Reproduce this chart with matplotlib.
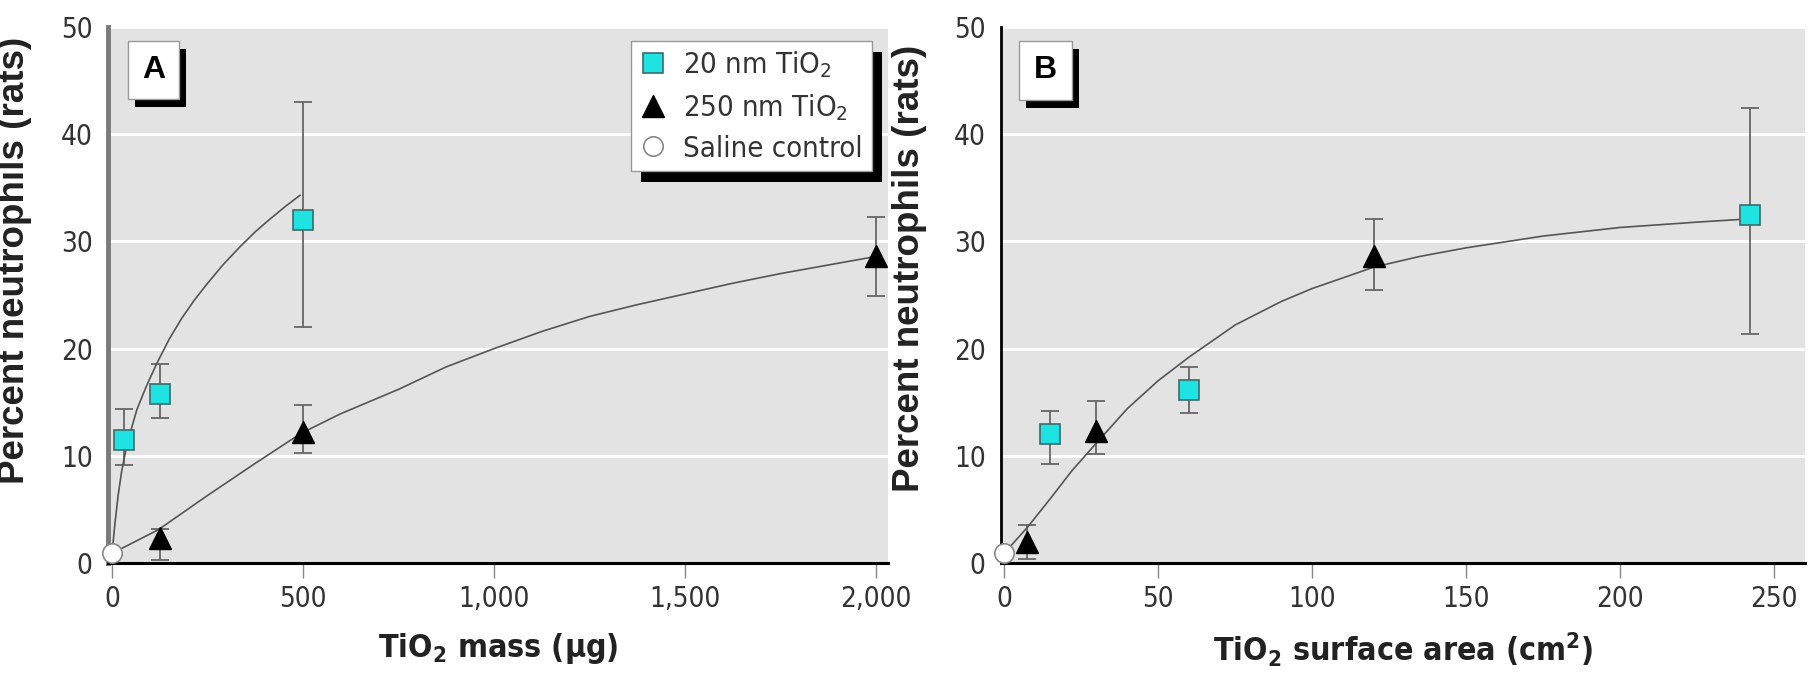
import numpy as np
import matplotlib
matplotlib.use('Agg')
import matplotlib.pyplot as plt
from matplotlib import font_manager as fm
from matplotlib.patches import Rectangle
from matplotlib.transforms import IdentityTransform

# pick a narrow face if the machine has one
fonts = [(f.name, f.stretch) for f in fm.fontManager.ttflist]
names = {n for n, s in fonts}
narrow, stretch = 'Liberation Sans', 'normal'
if 'Liberation Sans Narrow' in names:
    narrow = 'Liberation Sans Narrow'
else:
    for cand in ['Noto Sans', 'DejaVu Sans', 'Open Sans', 'Roboto']:
        st = [s for n, s in fonts if n == cand and 'condensed' in str(s)]
        if st:
            narrow = cand
            stretch = 'condensed' if 'condensed' in st else st[0]
            break

plt.rcParams['font.family'] = [narrow, 'DejaVu Sans']
plt.rcParams['font.stretch'] = stretch
plt.rcParams['mathtext.default'] = 'regular'

# panel A: dose as mass (ug)
mass_20 = [31, 125, 500]
pct_20_a = [11.5, 15.8, 32.0]
lo_20_a = [9.1, 13.5, 22.0]
hi_20_a = [14.4, 18.6, 43.0]

mass_250 = [125, 500, 2000]
pct_250_a = [2.3, 12.2, 28.6]
lo_250_a = [0.3, 10.3, 24.9]
hi_250_a = [3.2, 14.7, 32.3]

saline_a = 0.9

# fitted curves
fit20_a_x = [0, 8, 16, 25, 40, 65, 90, 117, 150, 182, 215, 248, 290, 335, 375, 414, 455, 492]
fit20_a_y = [0.9, 3.8, 6.3, 8.5, 11.2, 14.3, 16.5, 18.6, 20.9, 22.8, 24.5, 26.0, 27.8, 29.5, 30.9, 32.1, 33.3, 34.3]
fit250_a_x = [0, 121, 250, 375, 495, 597, 750, 875, 1000, 1125, 1250, 1375, 1500, 1625, 1750, 1875, 2000]
fit250_a_y = [0.9, 3.1, 6.3, 9.3, 12.1, 13.9, 16.2, 18.3, 20.0, 21.6, 23.0, 24.1, 25.1, 26.1, 27.0, 27.8, 28.6]

# panel B: dose as surface area (cm2)
area_20 = [15, 60, 242]
pct_20_b = [12.0, 16.1, 32.5]
lo_20_b = [9.2, 14.0, 21.4]
hi_20_b = [14.2, 18.3, 42.4]

area_250 = [7.5, 30, 120]
pct_250_b = [2.0, 12.3, 28.6]
lo_250_b = [0.4, 10.2, 25.5]
hi_250_b = [3.5, 15.1, 32.1]

saline_b = 0.9

fit_b_x = [0, 7.5, 15, 22, 30, 40, 50, 60, 75, 90, 100, 120, 135, 150, 175, 200, 225, 242]
fit_b_y = [0.9, 3.3, 6.0, 8.6, 11.2, 14.4, 17.0, 19.2, 22.2, 24.4, 25.6, 27.6, 28.6, 29.4, 30.5, 31.3, 31.8, 32.1]

xticks_a = [0, 500, 1000, 1500, 2000]
xticklabels_a = ['0', '500', '1,000', '1,500', '2,000']
xticks_b = [0, 50, 100, 150, 200, 250]
yticks = [0, 10, 20, 30, 40, 50]

cyan = '#1fe3e3'
cyan_edge = '#3d6b6b'
bar_col = '#666666'
fit_col = '#555555'

fig = plt.figure(figsize=(18.12, 6.74), dpi=100)
W, H = 1812, 674
axA = fig.add_axes([108 / W, 1 - 563 / H, 780 / W, 536 / H])
axB = fig.add_axes([1001 / W, 1 - 563 / H, 804 / W, 536 / H])


def err(p, lo, hi):
    p = np.array(p)
    return [p - np.array(lo), np.array(hi) - p]


def draw_panel(ax, x20, p20, lo20, hi20, x250, p250, lo250, hi250, sal):
    ax.errorbar(x20, p20, yerr=err(p20, lo20, hi20), fmt='none', ecolor=bar_col,
                elinewidth=1.3, capsize=6.5, capthick=1.3, zorder=3)
    ax.errorbar(x250, p250, yerr=err(p250, lo250, hi250), fmt='none', ecolor=bar_col,
                elinewidth=1.3, capsize=6.5, capthick=1.3, zorder=3)
    ax.plot(x20, p20, 's', ms=14, mfc=cyan, mec=cyan_edge, mew=1.2, zorder=5,
            label='20 nm TiO$_2$')
    ax.plot(x250, p250, '^', ms=16, mfc='black', mec='black', zorder=5,
            label='250 nm TiO$_2$')
    ax.plot([0], [sal], 'o', ms=14, mfc='white', mec='#888888', mew=1.2, zorder=6,
            clip_on=False, label='Saline control')


def style(ax, left_col, left_w):
    ax.set_facecolor('#e3e3e3')
    ax.set_ylim(0, 50)
    ax.set_yticks(yticks)
    ax.yaxis.grid(True, color='white', lw=2.2)
    ax.set_axisbelow(True)
    for s in ['top', 'right']:
        ax.spines[s].set_visible(False)
    ax.spines['bottom'].set_color('black')
    ax.spines['bottom'].set_linewidth(2.2)
    ax.spines['left'].set_color(left_col)
    ax.spines['left'].set_linewidth(left_w)
    ax.tick_params(axis='x', direction='out', length=11, width=1, color='#888888',
                   labelsize=20, labelcolor='#333333', pad=5)
    ax.tick_params(axis='y', length=0, labelsize=20, labelcolor='#333333', pad=11)
    ax.set_ylabel('Percent neutrophils (rats)', family='Liberation Sans',
                  stretch='normal', fontweight='bold', fontsize=26.5, color='#222222')


def panel_box(ax, letter, x0, x1, y0, y1, dx, dy):
    ax.add_patch(Rectangle((x0 + dx, y0 - dy), x1 - x0, y1 - y0, transform=ax.transAxes,
                           facecolor='black', edgecolor='none', zorder=7, clip_on=False))
    ax.add_patch(Rectangle((x0, y0), x1 - x0, y1 - y0, transform=ax.transAxes,
                           facecolor='white', edgecolor='#999999', lw=1, zorder=8,
                           clip_on=False))
    ax.text((x0 + x1) / 2, (y0 + y1) / 2, letter, transform=ax.transAxes,
            ha='center', va='center', fontsize=23, fontweight='bold',
            family='Liberation Sans', stretch='normal', zorder=9)


# panel A
draw_panel(axA, mass_20, pct_20_a, lo_20_a, hi_20_a, mass_250, pct_250_a,
           lo_250_a, hi_250_a, saline_a)
axA.plot(fit20_a_x, fit20_a_y, color=fit_col, lw=1.2, zorder=4)
axA.plot(fit250_a_x, fit250_a_y, color=fit_col, lw=1.2, zorder=4)
style(axA, '#7a7a7a', 3.5)
axA.set_xlim(-10.5, 2031)
axA.set_xticks(xticks_a)
axA.set_xticklabels(xticklabels_a)
axA.set_xlabel('TiO$_2$ mass (μg)', fontweight='bold', fontsize=23, color='#222222',
               labelpad=13)
axA.yaxis.set_label_coords(-0.097, 0.565)
panel_box(axA, 'A', 0.0253, 0.091, 0.8657, 0.9745, 0.009, 0.015)

leg = axA.legend(loc='upper left', bbox_to_anchor=(0.6705, 0.974), borderaxespad=0,
                 fontsize=21, frameon=True, fancybox=False, framealpha=1,
                 edgecolor='#999999', handlelength=0.9, handletextpad=0.6,
                 labelspacing=0.4, borderpad=0.3, numpoints=1)
leg.get_frame().set_linewidth(1)
leg.set_zorder(10)
for t in leg.get_texts():
    t.set_color('#333333')

# panel B
draw_panel(axB, area_20, pct_20_b, lo_20_b, hi_20_b, area_250, pct_250_b,
           lo_250_b, hi_250_b, saline_b)
axB.plot(fit_b_x, fit_b_y, color=fit_col, lw=1.2, zorder=4)
style(axB, 'black', 2)
axB.set_xlim(-1, 260)
axB.set_xticks(xticks_b)
axB.set_xlabel('TiO$_2$ surface area (cm$^2$)', fontweight='bold', fontsize=23,
               color='#222222', labelpad=13)
axB.yaxis.set_label_coords(-0.092, 0.55)
panel_box(axB, 'B', 0.0228, 0.088, 0.8645, 0.9745, 0.0087, 0.015)

# legend shadow, offset to lower right
fig.canvas.draw()
bb = leg.get_frame().get_window_extent()
axA.add_patch(Rectangle((bb.x0 + 10, bb.y0 - 11), bb.width, bb.height,
                        transform=IdentityTransform(), facecolor='black',
                        edgecolor='none', zorder=9, clip_on=False))

fig.savefig('out.png', dpi=100)
